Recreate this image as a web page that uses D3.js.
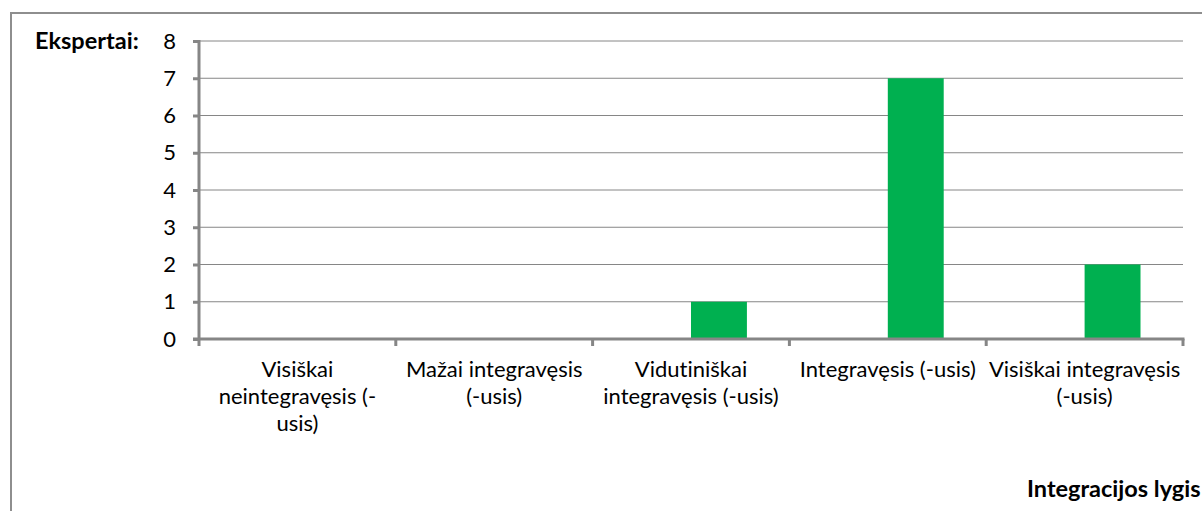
<!DOCTYPE html>
<html>
<head>
<meta charset="utf-8">
<script src="https://cdn.jsdelivr.net/npm/d3@7"></script>
<style>
  html, body { margin: 0; padding: 0; background: #fff; }
  svg { display: block; }
  text { font-variant-ligatures: none; font-feature-settings: "liga" 0, "clig" 0; }
</style>
</head>
<body>
<svg id="chart" width="1202" height="511"></svg>
<script>
// Category labels (line breaks where the label wraps)
const categories = [
  "Visiškai\nneintegravęsis (-\nusis)",
  "Mažai integravęsis\n(-usis)",
  "Vidutiniškai\nintegravęsis (-usis)",
  "Integravęsis (-usis)",
  "Visiškai integravęsis\n(-usis)"
];
// Number of experts per integration level
const experts = [0, 0, 1, 7, 2];
const yTicks = [0, 1, 2, 3, 4, 5, 6, 7, 8];
// Two slots per category; the first one is left empty
const slots = ["empty", "Ekspertai"];

const yTitle = "Ekspertai:";
const xTitle = "Integracijos lygis";

const svg = d3.select("#chart");
const W = 1202, H = 511;
const margin = { left: 199, right: 19, top: 41, bottom: 172 };
const plotW = W - margin.left - margin.right;
const plotH = H - margin.top - margin.bottom;

const font = "Lato, 'Open Sans', sans-serif";
const axisColor = "#868686";

// Outer chart frame
svg.append("path")
  .attr("d", `M11,${H + 2} L11,13 L${W + 2},13`)
  .attr("fill", "none")
  .attr("stroke", "#8e8e8e")
  .attr("stroke-width", 2);

const g = svg.append("g").attr("transform", `translate(${margin.left},${margin.top})`);

const x = d3.scaleBand().domain(categories).range([0, plotW]).padding(0);
const xs = d3.scaleBand().domain(slots).range([0, x.bandwidth()]).paddingInner(0).paddingOuter(0.76);
const y = d3.scaleLinear().domain([0, 8]).range([plotH, 0]);

// Horizontal gridlines
g.append("g")
  .selectAll("line")
  .data(yTicks.filter(d => d > 0))
  .join("line")
  .attr("x1", 0).attr("x2", plotW)
  .attr("y1", d => y(d)).attr("y2", d => y(d))
  .attr("stroke", axisColor)
  .attr("stroke-width", 1);

// Bars
g.append("g")
  .selectAll("rect")
  .data(categories.map((c, i) => ({ c, v: experts[i] })))
  .join("rect")
  .attr("x", d => x(d.c) + xs("Ekspertai"))
  .attr("width", xs.bandwidth())
  .attr("y", d => y(d.v))
  .attr("height", d => plotH - y(d.v))
  .attr("fill", "#00b050");

// Y axis
const yAxis = g.append("g")
  .call(d3.axisLeft(y).tickValues(yTicks).tickSize(6).tickPadding(17).tickFormat(d3.format("d")));
yAxis.select(".domain").attr("stroke", axisColor).attr("stroke-width", 3).attr("d", `M-5,0.5H0V${plotH}`);
yAxis.selectAll(".tick line").attr("stroke", axisColor).attr("stroke-width", 3);
yAxis.selectAll(".tick text")
  .attr("font-family", font).attr("font-size", 22).attr("fill", "#000");

// X axis with category boundary ticks
const xAxis = g.append("g").attr("transform", `translate(0,${plotH})`);
xAxis.append("line")
  .attr("x1", -6).attr("x2", plotW + 1.5)
  .attr("stroke", axisColor).attr("stroke-width", 3);
const bounds = categories.map(c => x(c)).concat([plotW]);
xAxis.selectAll("line.tk")
  .data(bounds)
  .join("line")
  .attr("class", "tk")
  .attr("x1", d => d).attr("x2", d => d)
  .attr("y1", 0).attr("y2", 7)
  .attr("stroke", axisColor).attr("stroke-width", 3);

// Category labels
xAxis.selectAll("text.cat")
  .data(categories)
  .join("text")
  .attr("class", "cat")
  .attr("text-anchor", "middle")
  .attr("font-family", font).attr("font-size", 22).attr("fill", "#000")
  .each(function (d) {
    const t = d3.select(this);
    d.split("\n").forEach((line, i) => {
      t.append("tspan")
        .attr("x", x(d) + x.bandwidth() / 2)
        .attr("y", 38 + i * 27)
        .text(line);
    });
  });

// Axis titles
svg.append("text")
  .attr("x", 35).attr("y", 49)
  .attr("font-family", font).attr("font-size", 23.5).attr("font-weight", "bold")
  .attr("fill", "#000")
  .text(yTitle);

svg.append("text")
  .attr("x", 1027).attr("y", 497)
  .attr("font-family", font).attr("font-size", 23.5).attr("font-weight", "bold")
  .attr("fill", "#000")
  .text(xTitle);
</script>
</body>
</html>
